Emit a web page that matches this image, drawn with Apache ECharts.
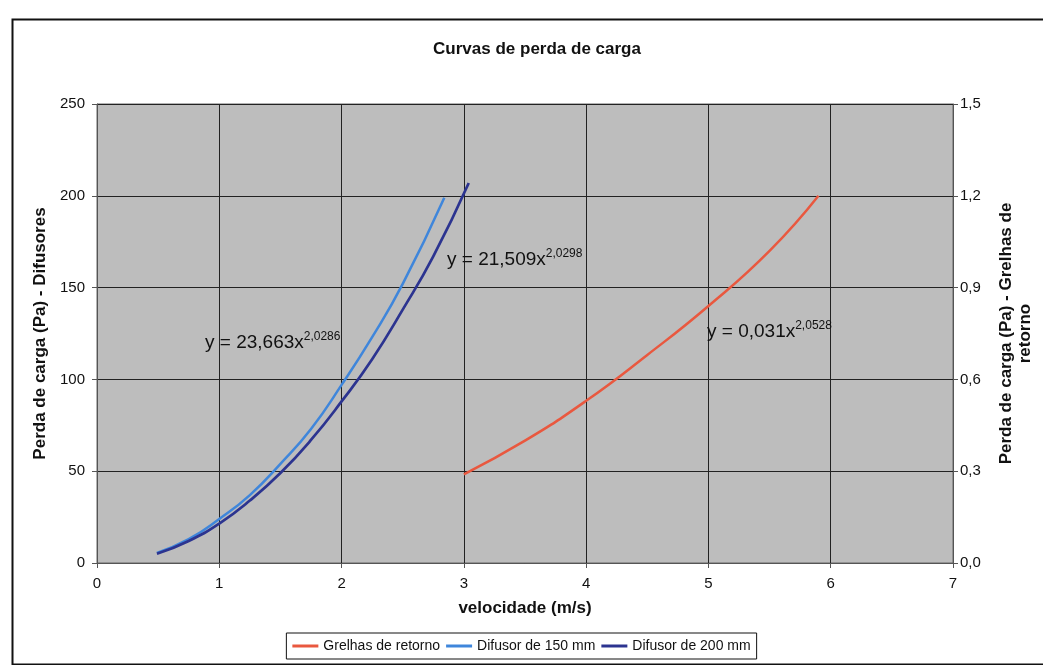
<!DOCTYPE html>
<html>
<head>
<meta charset="utf-8">
<script src="https://cdn.jsdelivr.net/npm/echarts@6/dist/echarts.min.js"></script>
<style>
html,body{margin:0;padding:0;background:#fff;}
#c{width:1043px;height:665px;}
</style>
</head>
<body>
<div id="c"></div>
<script>
// Data
const xTicks = [0, 1, 2, 3, 4, 5, 6, 7];
const leftTicks = [0, 50, 100, 150, 200, 250];
const rightTicks = [0.0, 0.3, 0.6, 0.9, 1.2, 1.5];

const grelhasV = [3.0, 3.5, 4.0, 4.5, 5.0, 5.5, 5.9];
const grelhasP = [0.29, 0.40, 0.53, 0.68, 0.84, 1.02, 1.20];

const dif150V = [0.49, 0.75, 1.0, 1.25, 1.5, 1.75, 2.0, 2.25, 2.5, 2.84];
const dif150P = [5.5, 13, 24, 37, 54, 73, 97, 123, 152, 199];

const dif200V = [0.49, 0.75, 1.0, 1.25, 1.5, 1.75, 2.0, 2.25, 2.5, 2.75, 3.04];
const dif200P = [5, 12, 21.5, 34, 49, 67, 88, 111, 138, 167, 207];

const seriesNames = ['Grelhas de retorno', 'Difusor de 150 mm', 'Difusor de 200 mm'];
const equations = [
  {a: 'y = 23,663x', b: '2,0286'},
  {a: 'y = 21,509x', b: '2,0298'},
  {a: 'y = 0,031x', b: '2,0528'}
];

const zip = (xs, ys) => xs.map((x, i) => [x, ys[i]]);
const fontFam = '"Liberation Sans", Arial, sans-serif';

const chart = echarts.init(document.getElementById('c'), null, {renderer: 'canvas'});

function eqText(eq, left, top) {
  return {
    type: 'text', left: left, top: top, z: 100,
    style: {
      text: '{a|' + eq.a + '}{b|' + eq.b + '}',
      rich: {
        a: {fontFamily: fontFam, fontSize: 19, lineHeight: 24, fill: '#111'},
        b: {fontFamily: fontFam, fontSize: 12, lineHeight: 10, fill: '#111', verticalAlign: 'top'}
      }
    }
  };
}

chart.setOption({
  backgroundColor: '#ffffff',
  animation: false,
  title: {
    text: 'Curvas de perda de carga',
    left: 532, top: 36, textAlign: 'center',
    textStyle: {fontFamily: fontFam, fontSize: 17, fontWeight: 'bold', color: '#111'}
  },
  legend: {
    data: seriesNames,
    left: 'center', top: 633,
    backgroundColor: '#fff',
    borderColor: '#111', borderWidth: 1,
    padding: [6, 6],
    itemGap: 6,
    itemWidth: 26, itemHeight: 3,
    icon: 'rect',
    textStyle: {fontFamily: fontFam, fontSize: 14, color: '#111'}
  },
  grid: {left: 97, right: 90, top: 104, bottom: 102, show: true, backgroundColor: '#bdbdbd', borderColor: '#666', borderWidth: 1},
  xAxis: {
    type: 'value', min: xTicks[0], max: xTicks[xTicks.length - 1], interval: 1,
    name: 'velocidade (m/s)', nameLocation: 'middle', nameGap: 37,
    nameTextStyle: {fontFamily: fontFam, fontSize: 17, fontWeight: 'bold', color: '#111'},
    axisLine: {onZero: false, lineStyle: {color: '#555'}},
    axisTick: {show: true, length: 5, lineStyle: {color: '#555'}},
    axisLabel: {fontFamily: fontFam, fontSize: 15, color: '#111', margin: 13},
    splitLine: {show: true, lineStyle: {color: '#222', width: 1}}
  },
  yAxis: [{
    type: 'value', min: leftTicks[0], max: leftTicks[leftTicks.length - 1], interval: 50,
    name: 'Perda de carga (Pa) - Difusores', nameLocation: 'middle', nameGap: 44, nameRotate: 90,
    nameTextStyle: {fontFamily: fontFam, fontSize: 17, fontWeight: 'bold', color: '#111'},
    axisLine: {show: true, lineStyle: {color: '#555'}},
    axisTick: {show: true, length: 5, lineStyle: {color: '#555'}},
    axisLabel: {fontFamily: fontFam, fontSize: 15, color: '#111', margin: 12},
    splitLine: {show: true, lineStyle: {color: '#222', width: 1}}
  }, {
    type: 'value', position: 'right', min: rightTicks[0], max: rightTicks[rightTicks.length - 1], interval: 0.3,
    name: 'Perda de carga (Pa) - Grelhas de\nretorno', nameLocation: 'middle', nameGap: 44, nameRotate: 90,
    nameTextStyle: {fontFamily: fontFam, fontSize: 17, fontWeight: 'bold', color: '#111', align: 'center', lineHeight: 19},
    axisLine: {show: true, lineStyle: {color: '#555'}},
    axisTick: {show: true, length: 5, lineStyle: {color: '#555'}},
    axisLabel: {fontFamily: fontFam, fontSize: 15, color: '#111', margin: 7,
      formatter: v => v.toFixed(1).replace('.', ',')},
    splitLine: {show: false}
  }],
  series: [{
    name: seriesNames[0], type: 'line', yAxisIndex: 1, smooth: true, showSymbol: false,
    data: zip(grelhasV, grelhasP),
    lineStyle: {color: '#e9583f', width: 2.5}, itemStyle: {color: '#e9583f'}
  }, {
    name: seriesNames[1], type: 'line', yAxisIndex: 0, smooth: true, showSymbol: false,
    data: zip(dif150V, dif150P),
    lineStyle: {color: '#3f86db', width: 2.5}, itemStyle: {color: '#3f86db'}
  }, {
    name: seriesNames[2], type: 'line', yAxisIndex: 0, smooth: true, showSymbol: false,
    data: zip(dif200V, dif200P),
    lineStyle: {color: '#2c3490', width: 2.7}, itemStyle: {color: '#2c3490'}
  }],
  graphic: [
    {type: 'rect', left: 10, top: 17, z: -10, silent: true,
      shape: {width: 1040, height: 645},
      style: {fill: 'none', stroke: '#111', lineWidth: 2}},
    eqText(equations[0], 205, 331),
    eqText(equations[1], 447, 248),
    eqText(equations[2], 707, 320)
  ]
});
</script>
</body>
</html>
